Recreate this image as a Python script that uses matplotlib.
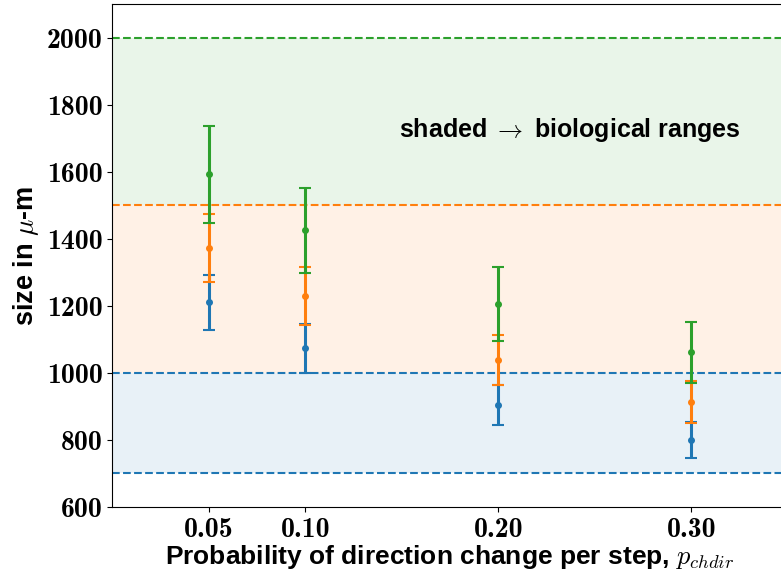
import matplotlib
matplotlib.use("Agg")
import matplotlib.pyplot as plt
import numpy as np

plt.rcParams['mathtext.fontset'] = 'cm'
plt.rcParams['font.family'] = ['Liberation Sans', 'DejaVu Sans']

# data
p_chdir = [0.05, 0.10, 0.20, 0.30]
x_tick_labels = ['0.05', '0.10', '0.20', '0.30']
blue_mean = [1210, 1074, 904, 799]
blue_err = [82, 73, 60, 54]
orange_mean = [1372, 1229, 1039, 912]
orange_err = [102, 86, 75, 63]
green_mean = [1592, 1425, 1205, 1061]
green_err = [145, 127, 111, 92]
y_ticks = [600, 800, 1000, 1200, 1400, 1600, 1800, 2000]
blue_range = [700, 1000]
orange_range = [1000, 1500]
green_range = [1500, 2000]

c_blue, c_orange, c_green = '#1f77b4', '#ff7f0e', '#2ca02c'

fig = plt.figure(figsize=(7.81, 5.71), dpi=100)
ax = fig.add_axes([0.1438, 0.1121, 0.865, 0.8809])

for rng, c in [(blue_range, c_blue), (orange_range, c_orange), (green_range, c_green)]:
    ax.axhspan(rng[0], rng[1], color=c, alpha=0.1, lw=0)

ax.axhline(blue_range[0], color=c_blue, ls='--', lw=1.5)
ax.axhline(blue_range[1], color=c_blue, ls='--', lw=1.5)
ax.axhline(orange_range[1], color=c_orange, ls='--', lw=1.5)
ax.axhline(green_range[1], color=c_green, ls='--', lw=1.5)

for m, e, c in [(blue_mean, blue_err, c_blue), (orange_mean, orange_err, c_orange),
                (green_mean, green_err, c_green)]:
    ax.errorbar(p_chdir, m, yerr=e, fmt='o', color=c, ms=4, lw=2.2,
                capsize=4.5, capthick=1.5)

ax.set_xlim(0, 0.35)
ax.set_ylim(600, 2100)
ax.set_xticks(p_chdir)
ax.set_xticklabels(x_tick_labels)
ax.set_yticks(y_ticks)
ax.set_yticklabels([str(t) for t in y_ticks])
for lab in ax.get_xticklabels() + ax.get_yticklabels():
    lab.set_family('cmb10')
    lab.set_fontsize(20)

ax.set_xlabel(r'Probability of direction change per step, $p_{chdir}$',
              fontsize=19, fontweight='bold', labelpad=0)
ax.set_ylabel(r'size in $\mu$-m', fontsize=19.5, fontweight='bold', labelpad=4)

ax.text(0.237, 1723, r'shaded $\rightarrow$ biological ranges', fontsize=18,
        fontweight='bold', ha='center', va='center')

fig.savefig('out.png', dpi=100)
